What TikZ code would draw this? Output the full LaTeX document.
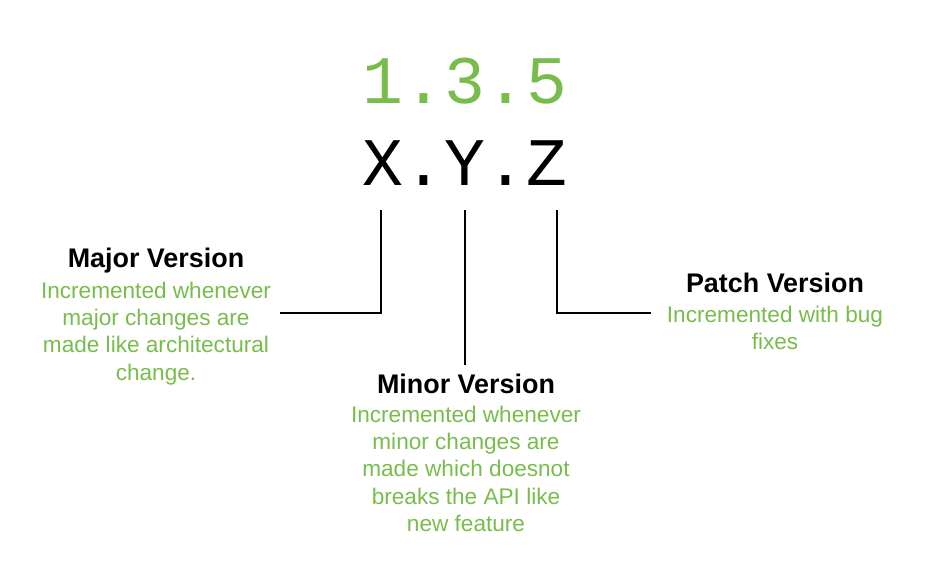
\documentclass[tikz,border=0pt]{standalone}
\usepackage{fontspec}
\setmainfont{Liberation Sans}
\newfontfamily\vermono{Liberation Mono}
\definecolor{vgreen}{RGB}{120,188,76}
\begin{document}
\begin{tikzpicture}[x=1pt,y=-1pt,
  bignum/.style={font=\vermono\fontsize{68}{70}\selectfont, inner sep=0, anchor=base},
  vtitle/.style={font=\bfseries\fontsize{26.9}{30}\selectfont, inner sep=0, anchor=base},
  vdesc/.style={font=\fontsize{22.6}{27.3}\selectfont, text=vgreen, align=center, inner sep=0, anchor=north},
  conn/.style={draw=black, line width=1.8pt}]
\useasboundingbox (0,0) rectangle (930,572);
\node[bignum, text=vgreen] (num) at (465,104) {1.3.5};
\node[bignum] (xyz) at (465,186) {X.Y.Z};

\node[vtitle] (majt) at (156,268) {Major Version};
\node[vdesc] (majd) at (156,281.6) {Incremented whenever\\major changes are\\made like architectural\\change.};

\node[vtitle] (mint) at (466,393) {Minor Version};
\node[vdesc] (mind) at (466,405.6) {Incremented whenever\\minor changes are\\made which doesnot\\breaks the API like\\new feature};

\node[vtitle] (patt) at (775,293) {Patch Version};
\node[vdesc] (patd) at (775,305.6) {Incremented with bug\\fixes};

\coordinate (xs) at (381,210);
\coordinate (ys) at (465,210);
\coordinate (zs) at (557,210);
\coordinate (xe) at (280,313);
\coordinate (ye) at (465,365);
\coordinate (ze) at (651,313);
\draw[conn] (xs) |- (xe);
\draw[conn] (ys) -- (ye);
\draw[conn] (zs) |- (ze);
\end{tikzpicture}
\end{document}
